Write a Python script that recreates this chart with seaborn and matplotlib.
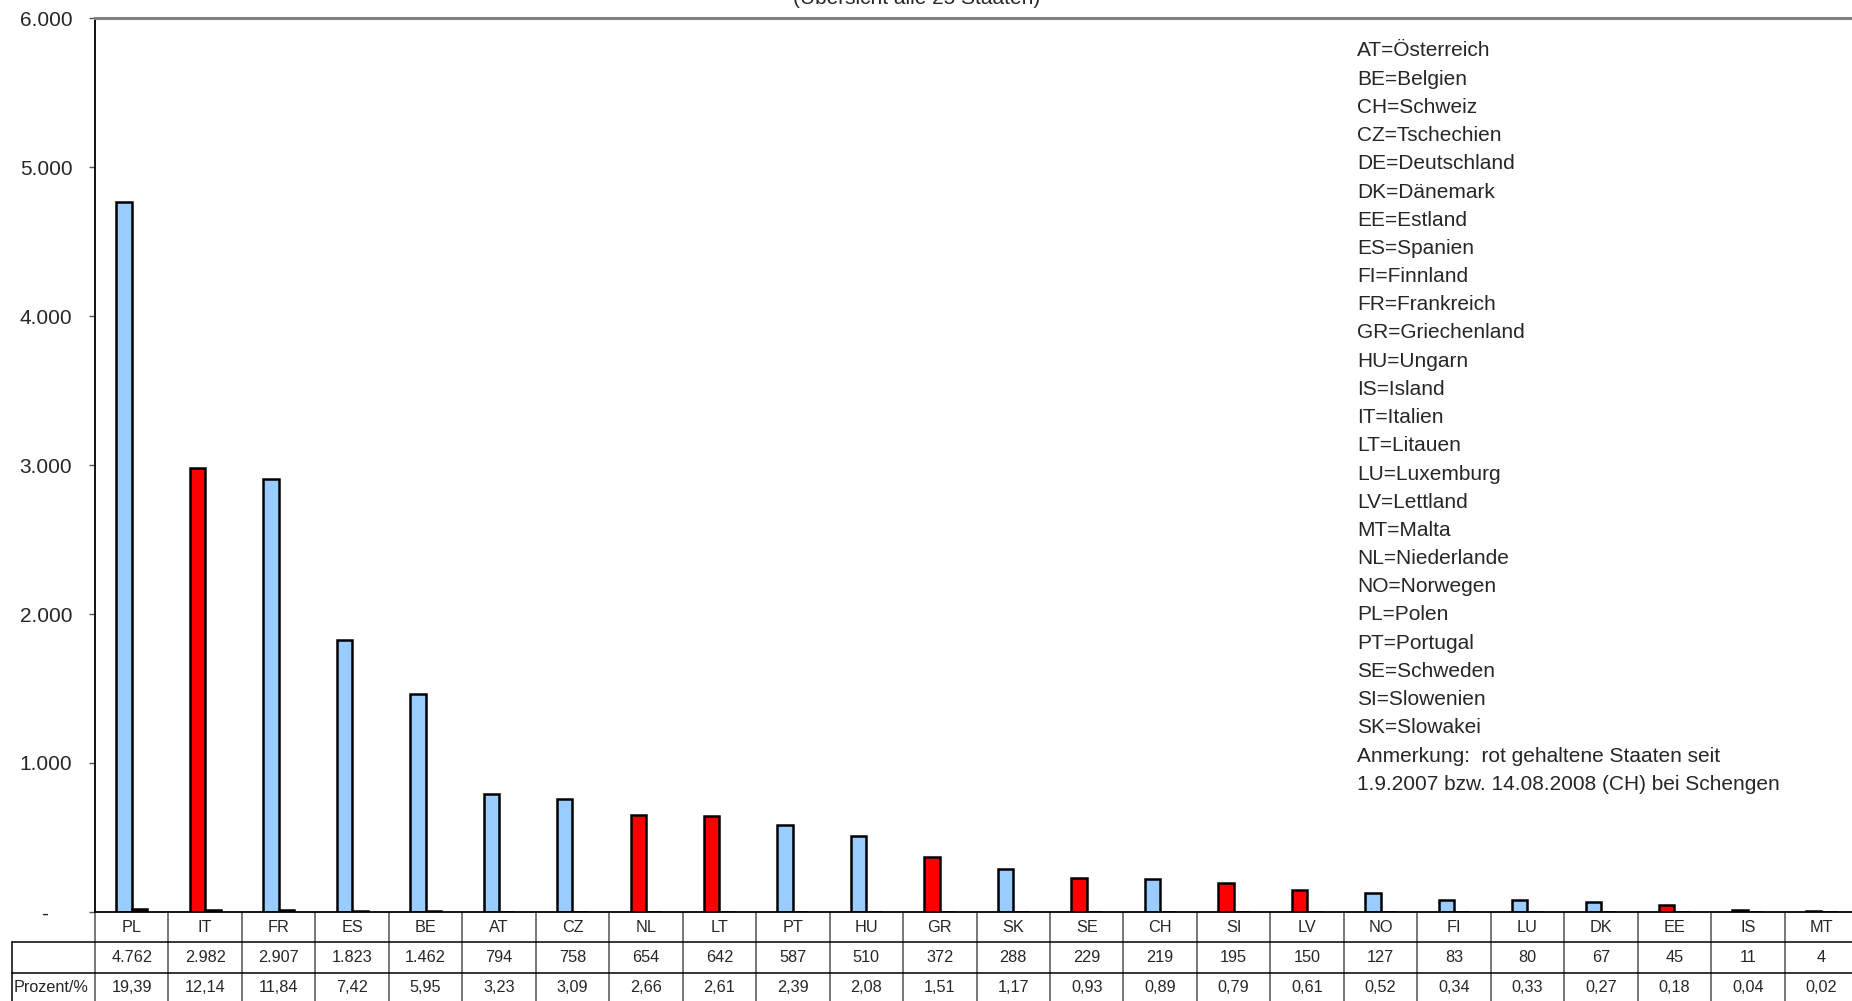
import numpy as np
import pandas as pd
import matplotlib
matplotlib.use('Agg')
import matplotlib.pyplot as plt
import matplotlib.transforms as mtrans
import seaborn as sns

sns.set_style('white')
plt.rcParams['font.family'] = ['Liberation Sans', 'DejaVu Sans']

# daten
laender = ['PL', 'IT', 'FR', 'ES', 'BE', 'AT', 'CZ', 'NL', 'LT', 'PT', 'HU', 'GR',
           'SK', 'SE', 'CH', 'SI', 'LV', 'NO', 'FI', 'LU', 'DK', 'EE', 'IS', 'MT']
anzahl = [4762, 2982, 2907, 1823, 1462, 794, 758, 654, 642, 587, 510, 372,
          288, 229, 219, 195, 150, 127, 83, 80, 67, 45, 11, 4]
prozent = [19.39, 12.14, 11.84, 7.42, 5.95, 3.23, 3.09, 2.66, 2.61, 2.39, 2.08, 1.51,
           1.17, 0.93, 0.89, 0.79, 0.61, 0.52, 0.34, 0.33, 0.27, 0.18, 0.04, 0.02]
rot = ['IT', 'NL', 'LT', 'GR', 'SE', 'SI', 'LV', 'EE']
legende = ['AT=Österreich', 'BE=Belgien', 'CH=Schweiz', 'CZ=Tschechien', 'DE=Deutschland',
           'DK=Dänemark', 'EE=Estland', 'ES=Spanien', 'FI=Finnland', 'FR=Frankreich',
           'GR=Griechenland', 'HU=Ungarn', 'IS=Island', 'IT=Italien', 'LT=Litauen',
           'LU=Luxemburg', 'LV=Lettland', 'MT=Malta', 'NL=Niederlande', 'NO=Norwegen',
           'PL=Polen', 'PT=Portugal', 'SE=Schweden', 'SI=Slowenien', 'SK=Slowakei',
           'Anmerkung:  rot gehaltene Staaten seit',
           '1.9.2007 bzw. 14.08.2008 (CH) bei Schengen']
titel = '(Übersicht alle 25 Staaten)'

df = pd.DataFrame({
    'land': laender * 2,
    'wert': anzahl + prozent,
    'reihe': ['Anzahl'] * len(laender) + ['Prozent'] * len(laender),
})

W, H = 1852, 1001
fig = plt.figure(figsize=(W / 100, H / 100), dpi=100)
ax = fig.add_axes([95 / W, (H - 912) / H, (W - 95) / W, 894 / H])

sns.barplot(data=df, x='land', y='wert', hue='reihe', ax=ax, width=0.42,
            palette=['#99CCFF', '#400040'], edgecolor='black', linewidth=1.8,
            legend=False, saturation=1)
for land, p in zip(laender, ax.containers[0]):
    if land in rot:
        p.set_facecolor('#FF0000')

ax.set_xlim(-0.5, -0.5 + (W - 95) / 73.46)
ax.set_ylim(0, 6000)
ax.set_yticks(range(0, 6001, 1000))
ax.set_yticklabels(['-    '] + [f'{v:,}'.replace(',', '.') for v in range(1000, 6001, 1000)])
ax.tick_params(axis='y', direction='out', length=4.3, width=1, color='#555555',
               labelsize=15, pad=12, left=True)
ax.set_xticks([])
ax.set_xlabel('')
ax.set_ylabel('')
for s in ['left', 'bottom']:
    ax.spines[s].set_color('black')
    ax.spines[s].set_linewidth(1.3)
ax.spines['top'].set_color('#808080')
ax.spines['top'].set_linewidth(2.2)
ax.spines['right'].set_visible(False)

# tabelle unter der achse
def fy(px):
    return (912 - px) / 894

xt = ax.get_xaxis_transform()
figx = mtrans.blended_transform_factory(fig.transFigure, ax.transAxes)
n = len(laender)
for i in range(n):
    ax.text(i, fy(927), laender[i], transform=xt, ha='center', va='center', fontsize=11.7)
    ax.text(i, fy(957.5), f'{anzahl[i]:,}'.replace(',', '.'), transform=xt,
            ha='center', va='center', fontsize=11.7)
    ax.text(i, fy(988), f'{prozent[i]:.2f}'.replace('.', ','), transform=xt,
            ha='center', va='center', fontsize=11.7)
for k in range(n + 1):
    ax.plot([k - 0.5, k - 0.5], [0, -0.2], transform=xt, color='#606060', lw=1.2, clip_on=False)
for ypx in [942, 973]:
    ax.plot([12 / W, 1], [fy(ypx), fy(ypx)], transform=figx, color='black', lw=1.1, clip_on=False)
ax.plot([12 / W, 12 / W], [fy(942), -0.2], transform=figx, color='black', lw=1.1, clip_on=False)
ax.text(14 / W, fy(988), 'Prozent/%', transform=figx, ha='left', va='center', fontsize=11.7)

# legende als text
for i, zeile in enumerate(legende):
    fig.text(1357 / W, 1 - (51 + i * 28.2) / H, zeile, ha='left', va='center', fontsize=15)

fig.text(917 / W, 1 - 3.5 / H, titel, ha='center', va='baseline', fontsize=15)

fig.savefig('out.png', dpi=100)
